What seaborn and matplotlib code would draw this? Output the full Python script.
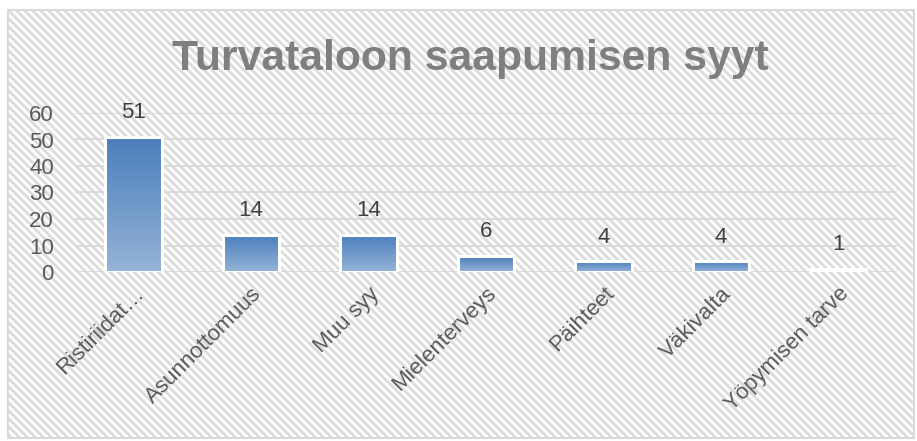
import numpy as np
import pandas as pd
import matplotlib
matplotlib.use("Agg")
import matplotlib.pyplot as plt
import seaborn as sns
from matplotlib.patches import Rectangle
from matplotlib.colors import LinearSegmentedColormap, to_rgb
import matplotlib.transforms as mtrans

categories = ["Ristiriidat…", "Asunnottomuus", "Muu syy", "Mielenterveys",
              "Päihteet", "Väkivalta", "Yöpymisen tarve"]
values = [51, 14, 14, 6, 4, 4, 1]
yticks = [0, 10, 20, 30, 40, 50, 60]
title = "Turvataloon saapumisen syyt"

sns.set_theme(style="white")
plt.rcParams["font.family"] = ["Liberation Sans", "DejaVu Sans"]

W, H = 917, 441
fig = plt.figure(figsize=(W / 100, H / 100), dpi=100)

# hatched chart-area background (pixel pattern) and border
bx0, by0, bx1, by1 = 8, 10, 914, 438
pw, ph = bx1 - bx0, by1 - by0
yy, xx = np.mgrid[0:ph, 0:pw]
t = 0.5 + 0.5 * np.cos(2 * np.pi * (xx - yy) / 8.0)
t = np.clip((t - 0.15) / 0.7, 0, 1)
c_light = np.array(to_rgb("#ffffff"))
c_dark = np.array(to_rgb("#dcdcdc"))
pattern = c_light[None, None, :] * (1 - t[..., None]) + c_dark[None, None, :] * t[..., None]
fig.figimage(pattern, xo=bx0, yo=H - by1, origin="upper", zorder=-10)
border = Rectangle((bx0 / W, 1 - by1 / H), pw / W, ph / H,
                   transform=fig.transFigure, facecolor="none", edgecolor="#d9d9d9",
                   linewidth=1.5, zorder=-9)
fig.patches.append(border)

ax_l, ax_r, ax_t, ax_b = 74.75, 897, 113, 272
ax = fig.add_axes([ax_l / W, 1 - ax_b / H, (ax_r - ax_l) / W, (ax_b - ax_t) / H])
ax.set_facecolor("none")

df = pd.DataFrame({"cat": categories, "val": values})
sns.barplot(data=df, x="cat", y="val", ax=ax, width=0.48, color="#4f81bd",
            saturation=1, edgecolor="white", linewidth=0)

cmap = LinearSegmentedColormap.from_list("g", ["#95b3d7", "#4a7ebb"])
grad = np.linspace(0, 1, 256).reshape(-1, 1)
for p in list(ax.patches):
    x0, w, h = p.get_x(), p.get_width(), p.get_height()
    im = ax.imshow(grad, extent=[x0, x0 + w, 0, h], aspect="auto", cmap=cmap,
                   origin="lower", zorder=p.get_zorder() + 0.1)
    im.set_clip_path(p)
    ax.add_patch(Rectangle((x0, 0), w, h, fill=False, edgecolor="white",
                           linewidth=2.2, zorder=p.get_zorder() + 0.2))

for i, v in enumerate(values):
    ax.annotate(str(v), (i, v), xytext=(0, 10), textcoords="offset points",
                ha="center", va="bottom", fontsize=16, color="#404040",
                annotation_clip=False)

ax.set_xlim(-0.5, len(categories) - 0.5)
ax.set_ylim(0, 60)
ax.set_yticks(yticks)
ax.set_yticklabels([str(t) for t in yticks], fontsize=16, color="#595959")
ax.set_xticks(range(len(categories)))
ax.set_xticklabels(categories, rotation=45, ha="right", rotation_mode="anchor",
                   fontsize=16, color="#595959")
shift = mtrans.ScaledTranslation(-6 / 100, -7 / 100, fig.dpi_scale_trans)
for lbl in ax.get_xticklabels():
    lbl.set_transform(lbl.get_transform() + shift)
ax.tick_params(axis="y", length=0, pad=15)
ax.tick_params(axis="x", length=0, pad=8)
ax.yaxis.grid(True, color="#d9d9d9", linewidth=1.3)
ax.set_axisbelow(True)
for s in ax.spines.values():
    s.set_visible(False)
ax.set_xlabel("")
ax.set_ylabel("")

fig.text(470.5 / W, 1 - 70 / H, title, ha="center", va="baseline", fontsize=30.7,
         fontweight="bold", color="#7f7f7f")

fig.savefig("out.png", dpi=100)
